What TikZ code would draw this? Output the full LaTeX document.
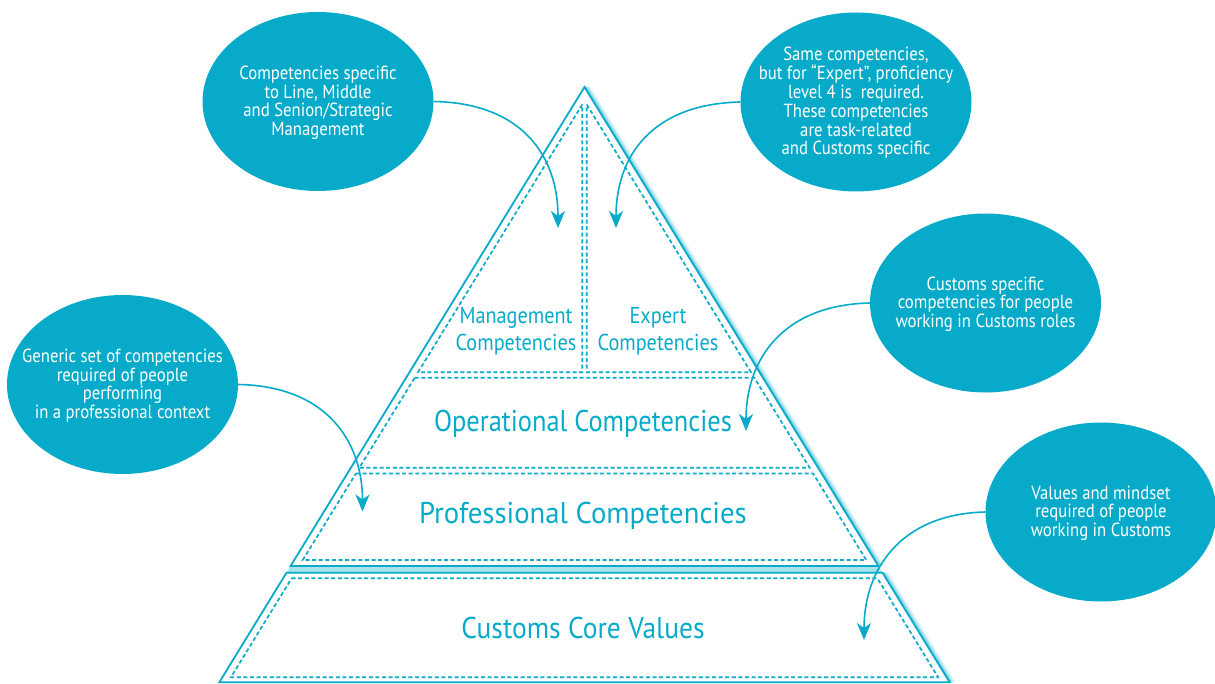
\documentclass[tikz,border=0pt]{standalone}
\usepackage{fontspec}
\usepackage{graphicx}
\newfontfamily\ecfont{PT Sans}[FakeStretch=0.88]
\usetikzlibrary{arrows.meta,shapes.geometric}
\definecolor{ecblue}{RGB}{7,171,201}
\begin{document}
\begin{tikzpicture}[x=1pt,y=-1pt,
  solidline/.style={draw=ecblue, line width=1.8pt, line join=miter},
  dashline/.style={draw=ecblue, line width=1.7pt, dash pattern=on 4pt off 2.6pt},
  bubble/.style={ellipse, fill=ecblue, minimum width=231pt, minimum height=179pt, inner sep=0pt},
  bubtext/.style={text=white, align=center, font=\ecfont\fontsize{19}{18.8}\selectfont, inner sep=0pt},
  lbl/.style={text=ecblue, font=\ecfont\fontsize{30}{34}\selectfont, inner sep=0pt},
  sublbl/.style={text=ecblue, align=center, font=\ecfont\fontsize{23}{26.7}\selectfont, inner sep=0pt},
  conn/.style={draw=ecblue, line width=1.6pt, -{Stealth[length=17pt,width=14pt,inset=5pt]}},
  glow/.style={draw=ecblue, line width=1.3pt},
]
\useasboundingbox (0,0) rectangle (1215,684);
% glow on the right edges
\foreach \i/\o in {1/0.45,2/0.32,3/0.22,4/0.14,5/0.08,6/0.04}{
  \draw[glow, opacity=\o, xshift=\i pt] (584.5,87) -- (878.4,566);
  \draw[glow, opacity=\o, xshift=\i pt] (882.5,572.7) -- (949.7,682.3);
}
% strip between the two solid shapes
\fill[ecblue!35] (290.6,566) -- (878.4,566) -- (882.5,572.7) -- (286.5,572.7) -- cycle;
% solid outlines
\draw[solidline] (584.5,87) -- (290.6,566) -- (878.4,566) -- cycle;
\draw[solidline] (286.5,572.7) -- (882.5,572.7) -- (949.7,682.3) -- (219.3,682.3) -- cycle;
% dashed inner sections
\draw[dashline] (582.2,104.6) -- (418.0,372.3) -- (582.2,372.3) -- cycle;
\draw[dashline] (586.8,104.6) -- (751.0,372.3) -- (586.8,372.3) -- cycle;
\draw[dashline] (414.7,377.7) -- (754.3,377.7) -- (809.6,467.7) -- (359.4,467.7) -- cycle;
\draw[dashline] (355.9,473.5) -- (813.1,473.5) -- (866.2,560) -- (302.8,560) -- cycle;
\draw[dashline] (291.6,578.3) -- (877.4,578.3) -- (938.1,677.3) -- (230.9,677.3) -- cycle;
% labels in the pyramid
\node[sublbl] (mgmt) at (516,331.5) {Management\\Competencies};
\node[sublbl] (expt) at (658,331.5) {Expert\\Competencies};
\node[lbl, anchor=base] (oper) at (583,431.7) {Operational Competencies};
\node[lbl, anchor=base] (prof) at (583,523.3) {\scalebox{1.087}[1]{Professional Competencies}};
\node[lbl, anchor=base] (core) at (583,638.5) {\scalebox{1.043}[1]{Customs Core Values}};
% bubbles
\node[bubble] (e1) at (318,101.5) {};
\node[bubble] (e2) at (856,102) {};
\node[bubble] (e3) at (985.5,303) {};
\node[bubble] (e4) at (122.5,384.5) {};
\node[bubble] (e5) at (1101,512) {};
\node[bubtext] (t1) at ([yshift=-1.2pt]e1.center) {Competencies specific\\to Line, Middle\\and Senion/Strategic\\Management};
\node[bubtext] (t2) at ([yshift=-1pt]e2.center) {Same competencies,\\but for “Expert”, proficiency\\level 4 is\ \ required.\\These competencies\\are task-related\\and Customs specific};
\node[bubtext] (t3) at ([yshift=-1.2pt]e3.center) {Customs specific\\competencies for people\\working in Customs roles};
\node[bubtext] (t4) at ([yshift=-1.2pt]e4.center) {Generic set of competencies\\required of people\\performing\\in a professional context};
\node[bubtext] (t5) at ([yshift=-1.2pt]e5.center) {Values and mindset\\required of people\\working in Customs};
% arrow targets
\coordinate (a1) at (558,228);
\coordinate (a2) at (616,228);
\coordinate (a3) at (746,431);
\coordinate (a4) at (362.5,511.5);
\coordinate (a5) at (864,640);
\draw[conn] (e1.east) .. controls (522,103) and (558,156) .. (a1);
\draw[conn] (e2.west) .. controls (652,104) and (616,156) .. (a2);
\draw[conn] (e3.west) .. controls (782,305) and (746,360) .. (a3);
\draw[conn] (e4.east) .. controls (327,386) and (362.5,442) .. (a4);
\draw[conn] (e5.west) .. controls (900,514) and (864,570) .. (a5);
\end{tikzpicture}
\end{document}
